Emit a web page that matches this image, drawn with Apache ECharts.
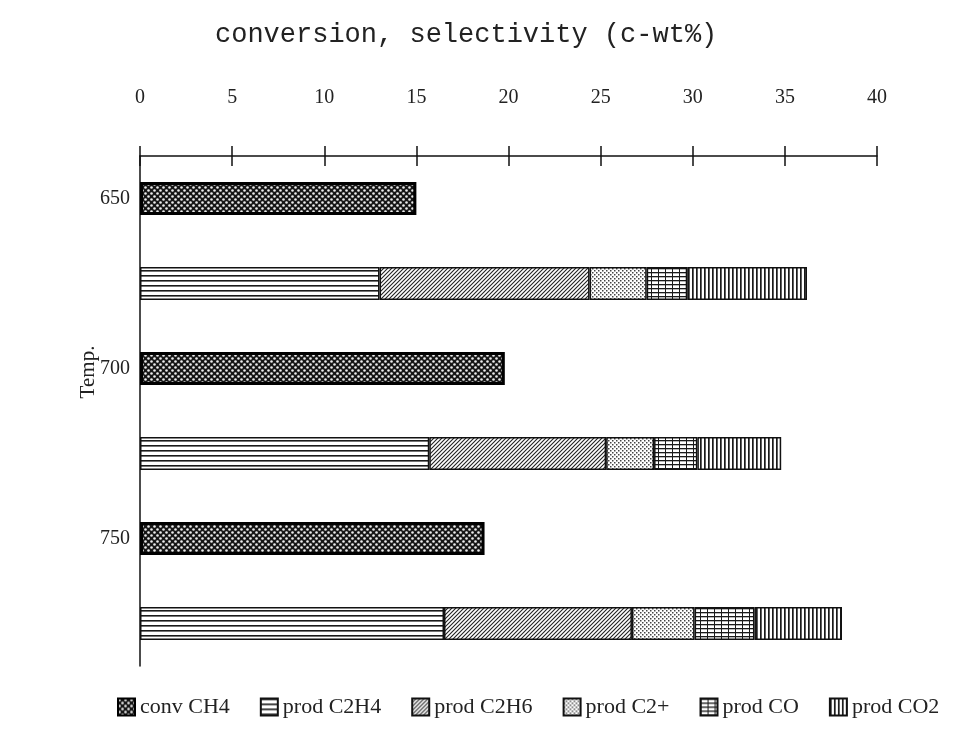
<!DOCTYPE html>
<html>
<head>
<meta charset="utf-8">
<script src="https://cdn.jsdelivr.net/npm/echarts@6/dist/echarts.min.js"></script>
<style>
  html, body { margin: 0; padding: 0; background: #fff; }
  #main { width: 961px; height: 737px; }
</style>
</head>
<body>
<div id="main"></div>
<script>
// Reaction temperatures (°C)
const temps = ['650', '700', '750'];
// Methane conversion and product selectivities, c-wt%
const convCH4    = [15.0, 19.8, 18.7];
const prodC2H4   = [13.0, 15.7, 16.5];
const prodC2H6   = [11.4, 9.6, 10.2];
const prodC2plus = [3.1, 2.6, 3.4];
const prodCO     = [2.2, 2.35, 3.25];
const prodCO2    = [6.5, 4.55, 4.75];
// Value-axis ticks
const xTicks = [0, 5, 10, 15, 20, 25, 30, 35, 40];

// Each temperature gets two rows: conversion bar, then the stacked product bar
const rows = [];
temps.forEach(t => { rows.push(t); rows.push(t + ' prod'); });
const onConvRow = arr => rows.map((r, i) => (i % 2 === 0 ? arr[i / 2] : '-'));
const onProdRow = arr => rows.map((r, i) => (i % 2 === 1 ? arr[(i - 1) / 2] : '-'));

// Monochrome fill patterns
function pattern(w, h, draw) {
  const c = document.createElement('canvas');
  c.width = w; c.height = h;
  const g = c.getContext('2d');
  draw(g, w, h);
  return { image: c, repeat: 'repeat' };
}
const patConv = pattern(6, 6, (g, w, h) => {
  g.fillStyle = '#151515'; g.fillRect(0, 0, w, h);
  g.fillStyle = '#ececec';
  g.beginPath(); g.arc(1.5, 1.5, 1.3, 0, Math.PI * 2); g.fill();
  g.beginPath(); g.arc(4.5, 4.5, 1.3, 0, Math.PI * 2); g.fill();
});
const patC2H4 = pattern(4, 5, (g, w, h) => {
  g.fillStyle = '#fff'; g.fillRect(0, 0, w, h);
  g.fillStyle = '#1a1a1a'; g.fillRect(0, 0, w, 1.6);
});
const patC2H6 = pattern(4, 4, (g, w, h) => {
  g.fillStyle = '#fff'; g.fillRect(0, 0, w, h);
  g.strokeStyle = '#222'; g.lineWidth = 1.1;
  g.beginPath();
  g.moveTo(-1, 5); g.lineTo(5, -1);
  g.moveTo(-1, 1); g.lineTo(1, -1);
  g.moveTo(3, 5); g.lineTo(5, 3);
  g.stroke();
});
const patC2plus = pattern(4, 4, (g, w, h) => {
  g.fillStyle = '#fff'; g.fillRect(0, 0, w, h);
  g.fillStyle = '#444';
  g.fillRect(0, 0, 1.5, 1.5); g.fillRect(2, 2, 1.5, 1.5);
});
const patCO = pattern(7, 4, (g, w, h) => {
  g.fillStyle = '#fff'; g.fillRect(0, 0, w, h);
  g.fillStyle = '#1a1a1a';
  g.fillRect(0, 0, w, 1.3);
  g.fillRect(0, 0, 1, h);
});
const patCO2 = pattern(4, 2, (g, w, h) => {
  g.fillStyle = '#fff'; g.fillRect(0, 0, w, h);
  g.fillStyle = '#1a1a1a'; g.fillRect(0, 0, 1.7, h);
});

const serif = '"Liberation Serif", "DejaVu Serif", serif';
const barW = 33;

function prodSeries(name, arr, pat) {
  return {
    name, type: 'bar', stack: 'total', barWidth: barW,
    data: onProdRow(arr),
    itemStyle: { color: pat, borderColor: '#111', borderWidth: 1.5 },
    emphasis: { disabled: true }
  };
}

const chart = echarts.init(document.getElementById('main'), null, { renderer: 'canvas' });
chart.setOption({
  backgroundColor: '#fff',
  animation: false,
  title: {
    text: 'conversion, selectivity (c-wt%)',
    left: 210, top: 16,
    textStyle: { fontFamily: '"Liberation Mono", "DejaVu Sans Mono", monospace', fontSize: 27, fontWeight: 'normal', color: '#222' }
  },
  grid: { left: 140, right: 84, top: 156, bottom: 71, containLabel: false },
  xAxis: [
    {
      type: 'value', position: 'top',
      min: xTicks[0], max: xTicks[xTicks.length - 1], interval: xTicks[1] - xTicks[0],
      axisLine: { show: true, lineStyle: { color: '#111', width: 1.5 } },
      axisTick: { show: true, length: 10, lineStyle: { color: '#111', width: 1.5 } },
      axisLabel: { margin: 48, fontFamily: serif, fontSize: 20, color: '#222' },
      splitLine: { show: false }
    },
    {
      type: 'value', position: 'top',
      min: xTicks[0], max: xTicks[xTicks.length - 1], interval: xTicks[1] - xTicks[0],
      axisLine: { show: false },
      axisTick: { show: true, inside: true, length: 10, lineStyle: { color: '#111', width: 1.5 } },
      axisLabel: { show: false },
      splitLine: { show: false }
    }
  ],
  yAxis: {
    type: 'category', inverse: true, data: rows,
    axisLine: { show: true, lineStyle: { color: '#111', width: 1.5 } },
    axisTick: { show: false },
    axisLabel: {
      margin: 10, fontFamily: serif, fontSize: 20, color: '#222',
      formatter: v => (temps.indexOf(v) >= 0 ? v : '')
    }
  },
  legend: {
    left: 112, bottom: 14,
    itemWidth: 17, itemHeight: 17, itemGap: 30,
    icon: 'rect',
    textStyle: { fontFamily: serif, fontSize: 22, color: '#222' },
    data: ['conv CH4', 'prod C2H4', 'prod C2H6', 'prod C2+', 'prod CO', 'prod CO2']
  },
  graphic: [{
    type: 'text', x: 88, y: 372, rotation: Math.PI / 2,
    style: { text: 'Temp.', font: '21px "Liberation Serif"', fill: '#222', align: 'center', verticalAlign: 'middle' }
  }],
  series: [
    {
      name: 'conv CH4', type: 'bar', stack: 'total', barWidth: barW,
      data: onConvRow(convCH4),
      itemStyle: { color: patConv, borderColor: '#000', borderWidth: 3 },
      emphasis: { disabled: true }
    },
    prodSeries('prod C2H4', prodC2H4, patC2H4),
    prodSeries('prod C2H6', prodC2H6, patC2H6),
    prodSeries('prod C2+', prodC2plus, patC2plus),
    prodSeries('prod CO', prodCO, patCO),
    prodSeries('prod CO2', prodCO2, patCO2)
  ]
});
</script>
</body>
</html>
